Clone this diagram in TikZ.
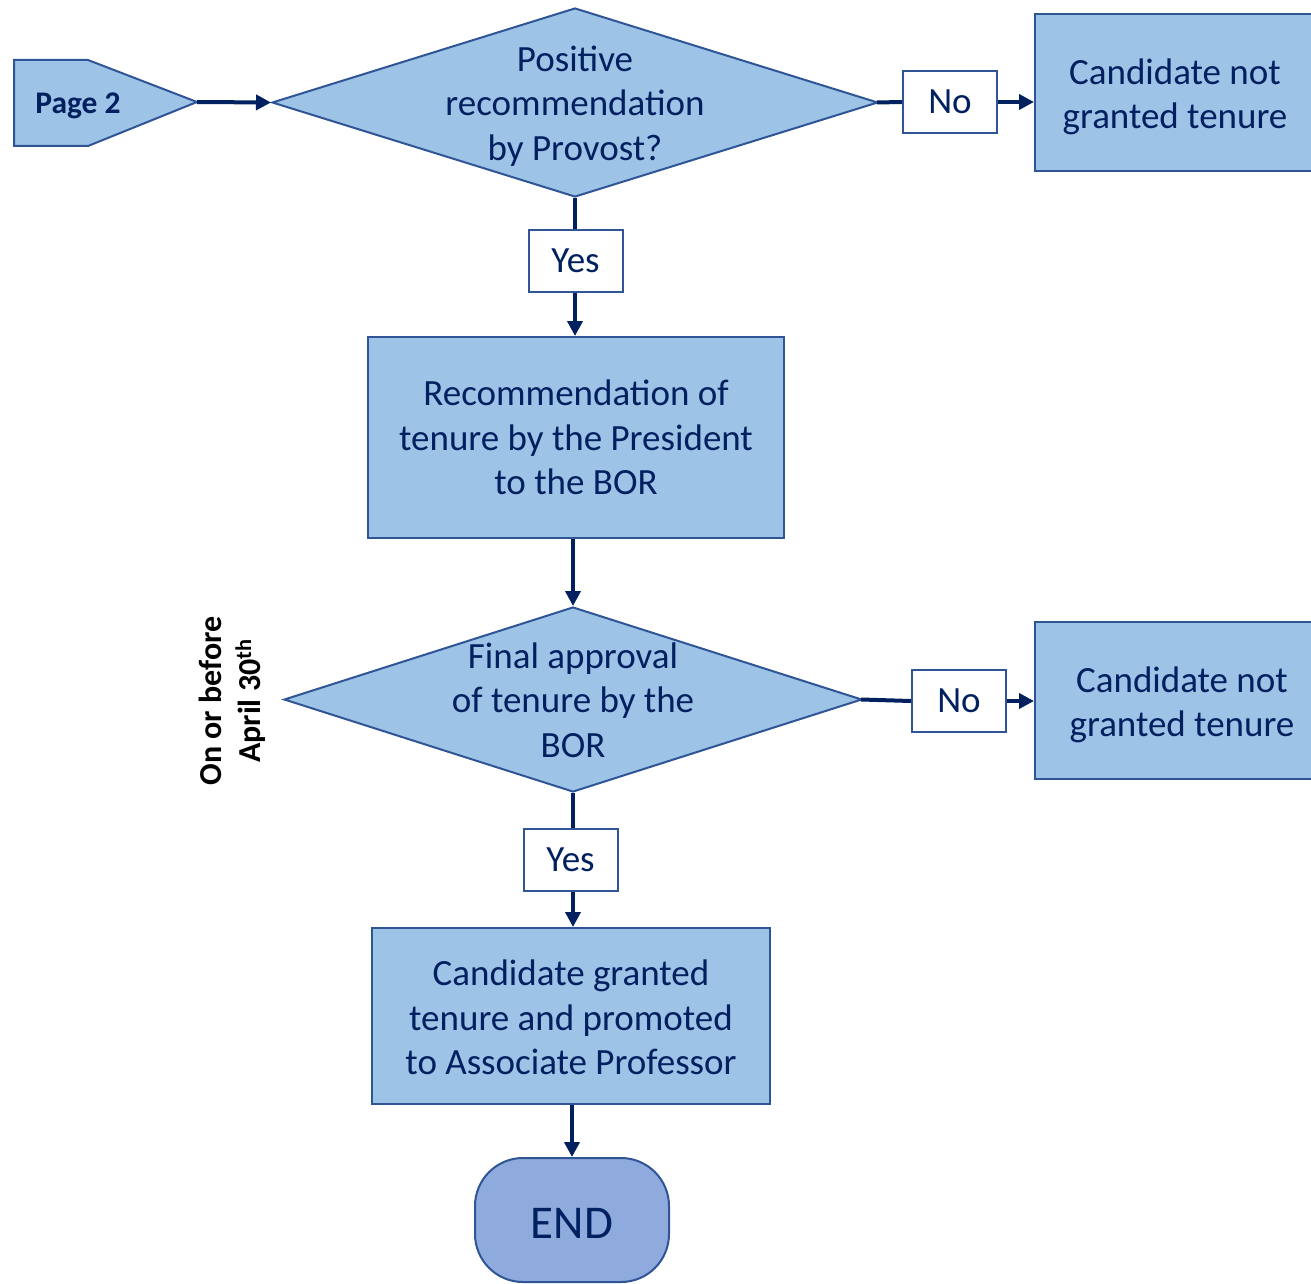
\documentclass[tikz,border=0pt]{standalone}
\usepackage{fontspec}
\setmainfont{Carlito}
\usetikzlibrary{shapes.geometric,arrows.meta}
\definecolor{boxfill}{HTML}{9DC3E6}
\definecolor{boxline}{HTML}{2F5597}
\definecolor{navy}{HTML}{002060}
\definecolor{endfill}{HTML}{8FAADC}
\begin{document}
\begin{tikzpicture}[x=1pt,y=-1pt,
  box/.style={draw=boxline, line width=2pt, fill=boxfill, inner sep=0pt,
    text=navy, font=\fontsize{37}{44.5}\selectfont, align=center},
  dia/.style={diamond, draw=boxline, line width=2pt, fill=boxfill, inner sep=0pt},
  txt/.style={text=navy, font=\fontsize{37}{44.5}\selectfont, align=center, inner sep=0pt},
  ans/.style={draw=boxline, line width=2pt, fill=white, text=navy,
    font=\fontsize{37}{42}\selectfont, minimum width=94, minimum height=62, inner sep=0pt},
  link/.style={draw=navy, line width=4pt},
  flow/.style={link, -{Triangle[length=15pt,width=15pt]}},
]
\useasboundingbox (0,0) rectangle (1311,1284);
\clip (0,0) rectangle (1311,1284);

% off-page connector
\draw[draw=boxline, line width=2pt, fill=boxfill]
  (14,60) -- (88,60) -- (197,102) -- (88,146) -- (14,146) -- cycle;
\coordinate (pgtip) at (197,102);
\node[text=navy, font=\fontsize{31.5}{36}\selectfont\bfseries] (pg) at (78,106) {Page 2};

% first decision
\node[dia, minimum width=606, minimum height=189] (d1) at (575,102.5) {};
\node[txt] (d1t) at (575,106) {Positive\\recommendation\\by Provost?};
\node[ans] (no1) at (950,102) {No};
\node[box, minimum width=285, minimum height=157] (r1) at (1177.5,92.5) {};
\node[txt] (r1t) at (1175,97) {Candidate not\\granted tenure};
\node[ans] (yes1) at (575.5,261) {Yes};

% recommendation to the board
\node[box, minimum width=416, minimum height=201] (b2) at (576,437.5)
  {Recommendation of\\tenure by the President\\to the BOR};

% second decision
\node[dia, minimum width=578, minimum height=185] (d2) at (573,699.5) {};
\node[txt] (d2t) at (573,700) {Final approval\\of tenure by the\\BOR};
\node[ans] (no2) at (959,701) {No};
\node[box, minimum width=285, minimum height=157] (r2) at (1177.5,700.5) {};
\node[txt] (r2t) at (1182,705) {Candidate not\\granted tenure};
\node[ans] (yes2) at (570.5,860) {Yes};

\node[rotate=90, font=\fontsize{32}{39}\selectfont\bfseries, align=center] (dl)
  at (232,701) {On or before\\April 30\textsuperscript{th}};

% outcome
\node[box, minimum width=398, minimum height=176] (b3) at (571,1016) {};
\node[txt] (b3t) at (571,1017.5) {Candidate granted\\tenure and promoted\\to Associate Professor};
\node[draw=boxline, line width=2pt, fill=endfill, rounded corners=48pt,
  minimum width=194, minimum height=124, text=navy,
  font=\fontsize{47}{52}\selectfont] (end) at (572,1220) {};
\node[text=navy, font=\fontsize{47}{52}\selectfont] (endt) at (572,1223) {END};

% connectors
\draw[flow] (pgtip) -- (d1.west);
\draw[link] ([xshift=-2pt]d1.east) -- (no1.west);
\draw[flow] (no1.east) -- (no1.east -| r1.west);
\draw[link] (d1.south) -- (d1.south |- yes1.north);
\draw[flow] (d1.south |- yes1.south) -- (d1.south |- b2.north);
\draw[flow] (d2.north |- b2.south) -- (d2.north);
\draw[link] ([xshift=-2pt]d2.east) -- (no2.west);
\draw[flow] (no2.east) -- (no2.east -| r2.west);
\draw[link] (d2.south) -- (d2.south |- yes2.north);
\draw[flow] (d2.south |- yes2.south) -- (d2.south |- b3.north);
\draw[flow] (end.north |- b3.south) -- (end.north);
\end{tikzpicture}
\end{document}
